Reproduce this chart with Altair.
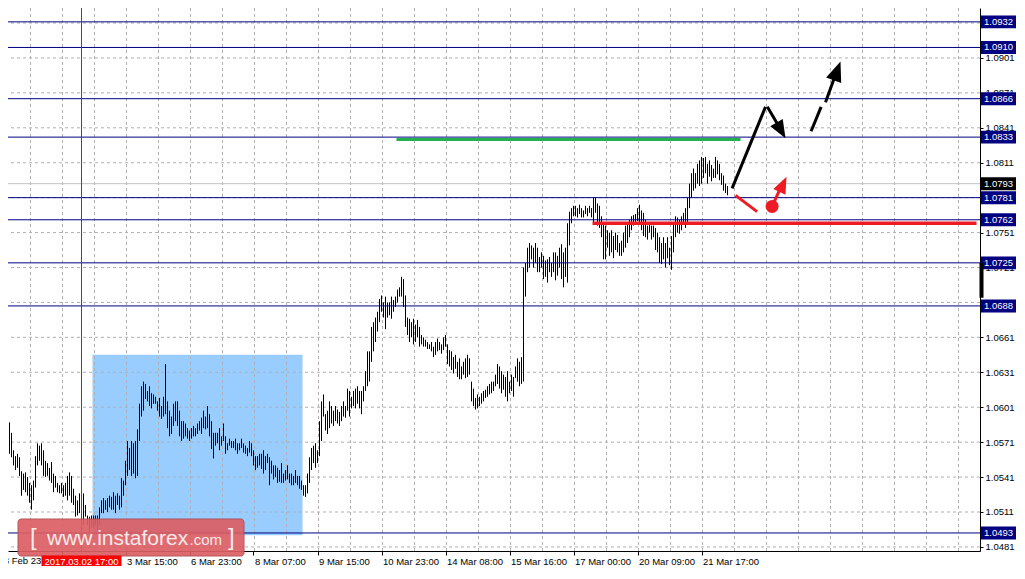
import altair as alt
import pandas as pd

# ---------------- data (EURUSD H1, prices given as pips: price = 1 + v/10000) ----------------
HIGH_PIPS = [
    578, 575, 572, 576, 588, 579, 564, 559, 561, 558,
    546, 544, 545, 541, 536, 534, 538, 559, 570, 568,
    570, 564, 555, 553, 549, 554, 544, 542, 536, 534,
    536, 534, 536, 542, 545, 542, 531, 525, 521, 527,
    534, 527, 517, 508, 507, 508, 508, 508, 508, 515,
    521, 523, 521, 523, 525, 524, 528, 525, 527, 525,
    540, 538, 555, 572, 566, 572, 570, 572, 582, 604,
    619, 623, 621, 615, 619, 613, 612, 610, 606, 609,
    602, 610, 638, 606, 598, 593, 604, 606, 606, 598,
    589, 589, 587, 583, 581, 583, 585, 583, 587, 589,
    592, 598, 593, 602, 595, 589, 579, 579, 579, 583,
    576, 587, 576, 570, 574, 572, 572, 574, 570, 570,
    574, 570, 568, 566, 572, 570, 564, 559, 559, 561,
    561, 564, 559, 561, 558, 555, 551, 551, 549, 547,
    553, 544, 547, 551, 544, 544, 542, 547, 542, 542,
    538, 534, 534, 544, 558, 566, 568, 570, 564, 589,
    606, 612, 595, 598, 606, 602, 598, 602, 599, 597,
    602, 606, 602, 617, 615, 610, 615, 617, 619, 615,
    615, 619, 632, 649, 649, 670, 674, 678, 683, 694,
    697, 691, 696, 691, 691, 696, 693, 696, 702, 704,
    713, 711, 697, 678, 677, 674, 677, 672, 676, 670,
    663, 661, 659, 657, 655, 657, 653, 657, 660, 657,
    655, 661, 663, 655, 650, 649, 644, 646, 640, 643,
    636, 640, 643, 646, 643, 623, 617, 609, 612, 610,
    613, 615, 616, 619, 621, 623, 623, 629, 638, 636,
    632, 629, 627, 632, 623, 629, 627, 636, 643, 640,
    644, 721, 725, 738, 742, 740, 738, 742, 738, 730,
    734, 731, 727, 728, 730, 725, 734, 734, 731, 738,
    741, 734, 738, 759, 769, 772, 774, 774, 772, 775,
    772, 770, 774, 772, 774, 772, 781, 781, 776, 774,
    765, 759, 757, 753, 751, 753, 748, 751, 749, 742,
    744, 751, 757, 759, 762, 765, 766, 767, 772, 775,
    770, 768, 762, 757, 759, 757, 757, 755, 751, 747,
    742, 747, 742, 747, 738, 748, 759, 765, 764, 762,
    765, 768, 772, 781, 793, 802, 806, 802, 810, 813,
    816, 815, 816, 810, 813, 809, 806, 816, 813, 810,
    802, 800, 793, 791,
]
LOW_PIPS = [
    558, 564, 551, 553, 561, 558, 551, 547, 549, 542,
    525, 530, 528, 525, 519, 513, 521, 532, 551, 555,
    551, 542, 541, 542, 538, 536, 528, 532, 528, 527,
    527, 524, 525, 521, 525, 519, 517, 507, 508, 510,
    504, 500, 507, 500, 494, 497, 498, 500, 496, 500,
    510, 510, 513, 511, 515, 513, 513, 510, 517, 513,
    515, 525, 534, 542, 547, 542, 544, 540, 542, 572,
    593, 598, 608, 606, 602, 600, 604, 604, 598, 593,
    591, 593, 595, 583, 576, 578, 585, 589, 585, 576,
    572, 574, 576, 574, 572, 574, 576, 576, 578, 581,
    578, 583, 582, 583, 576, 565, 557, 568, 570, 564,
    568, 572, 561, 564, 568, 566, 566, 564, 561, 564,
    566, 562, 561, 559, 562, 559, 551, 547, 549, 551,
    548, 544, 547, 553, 534, 544, 539, 541, 536, 537,
    536, 536, 538, 539, 536, 534, 534, 536, 534, 531,
    530, 525, 524, 527, 536, 547, 553, 549, 553, 559,
    572, 593, 581, 578, 583, 587, 585, 589, 587, 585,
    589, 593, 592, 598, 593, 600, 602, 600, 604, 600,
    595, 606, 615, 619, 623, 640, 649, 657, 666, 674,
    683, 678, 668, 678, 680, 677, 683, 687, 691, 696,
    696, 687, 670, 663, 657, 661, 655, 657, 661, 653,
    655, 653, 653, 651, 651, 649, 644, 646, 649, 650,
    647, 650, 653, 638, 636, 633, 630, 634, 627, 625,
    625, 629, 626, 627, 629, 606, 602, 599, 600, 602,
    604, 606, 609, 610, 612, 613, 615, 619, 621, 617,
    613, 616, 610, 606, 613, 615, 610, 626, 623, 619,
    621, 623, 696, 717, 721, 728, 721, 725, 717, 717,
    721, 711, 713, 708, 717, 713, 717, 710, 714, 721,
    711, 704, 713, 708, 740, 759, 765, 765, 764, 767,
    764, 764, 767, 765, 768, 764, 759, 768, 757, 755,
    747, 728, 728, 738, 731, 734, 729, 736, 734, 731,
    731, 734, 738, 742, 747, 753, 757, 759, 761, 759,
    753, 748, 747, 745, 751, 745, 747, 736, 734, 725,
    724, 728, 721, 729, 723, 719, 734, 747, 751, 750,
    753, 758, 755, 759, 772, 781, 787, 789, 793, 791,
    793, 798, 802, 793, 799, 795, 798, 798, 801, 796,
    792, 787, 785, 783,
]

# time axis (bar index -> label)
TICK_IDX = [30, 62, 94, 126, 158, 190, 222, 254, 286, 318, 350]
TICK_LABELS = ["", "3 Mar 15:00", "6 Mar 23:00", "8 Mar 07:00", "9 Mar 15:00",
               "10 Mar 23:00", "14 Mar 08:00", "15 Mar 16:00", "17 Mar 00:00",
               "20 Mar 09:00", "21 Mar 17:00"]
FIRST_LABEL = "28 Feb 23:00"
FIRST_IDX = -2
CURSOR_IDX = 40
CURSOR_LABEL = "2017.03.02 17:00"
VGRID_IDX = [14.5 + 16 * k for k in range(30)]

# price axis
PRICE_TICKS = [1.0481, 1.0511, 1.0541, 1.0571, 1.0601, 1.0631, 1.0661, 1.0691,
               1.0721, 1.0751, 1.0781, 1.0811, 1.0841, 1.0871, 1.0901, 1.0931]
LEVELS = [1.0932, 1.0910, 1.0866, 1.0833, 1.0781, 1.0762, 1.0725, 1.0688, 1.0493]
CURRENT = 1.0793

# drawn objects (bar index / price)
BOX_X = [45.5, 150.5]
BOX_Y = [1.0491, 1.0646]
GREEN_X = [197.5, 369.5]
GREEN_Y = 1.0831
RED_X = [295.5, 487.5]
RED_Y = 1.0759
BLACK_SEG_X = [365.3, 382.9, 404.8, 412.0]
BLACK_SEG_Y = [1.0789, 1.0859, 1.0838, 1.0863]
BLACK_SEG_X2 = [382.0, 390.5, 409.8, 417.5]
BLACK_SEG_Y2 = [1.0859, 1.0837, 1.0859, 1.0889]
RED_SEG_X = [367.0, 385.3]
RED_SEG_Y = [1.0783, 1.07735]
RED_SEG_X2 = [377.8, 390.5]
RED_SEG_Y2 = [1.0769, 1.0793]
DOT_X, DOT_Y = 385.3, 1.07735
HEAD_X = [392.0, 419.5, 392.5]
HEAD_Y = [1.0832, 1.0898, 1.0799]
HEAD_ANGLE = [150, 20, 25]
HEAD_COLOR = ["#000000", "#000000", "#ed1c24"]
HEAD_SIZE = [324, 400, 280]
AXIS_MARK_Y = [1.0725, 1.0695]

# ---------------- chart ----------------
W, H = 972, 543
FONT = "Liberation Sans"
GRID_COLOR = "#b0b0b0"
XS = alt.Scale(domain=[3.25, 3.25 + W / 2], nice=False, zero=False)
YS = alt.Scale(domain=[1.04775, 1.09439], nice=False, zero=False)

labels_js = "[" + ",".join("'%s'" % s for s in TICK_LABELS) + "]"
idx_js = "[" + ",".join(str(v) for v in TICK_IDX) + "]"
XAX = alt.Axis(values=TICK_IDX, labelExpr=f"{labels_js}[indexof({idx_js}, datum.value)]",
               labelAlign="left", labelBaseline="top", labelOffset=1, labelPadding=1,
               tickSize=4, tickColor="black", domainColor="black", labelColor="black",
               labelFont=FONT, labelFontSize=9.5, grid=False, title=None,
               labelOverlap=False, labelFlush=False, labelBound=False)
YAX = alt.Axis(orient="right", values=PRICE_TICKS, format=".4f", labelAlign="left",
               labelBaseline="middle", labelPadding=2, tickSize=3, tickColor="black",
               domainColor="black", labelColor="black", labelFont=FONT, labelFontSize=9.5,
               grid=False, title=None, labelOverlap=False, labelFlush=False, labelBound=False)


def X(f):
    return alt.X(f, type="quantitative", scale=XS, axis=XAX)


def Y(f):
    return alt.Y(f, type="quantitative", scale=YS, axis=YAX)


bars_df = pd.DataFrame({
    "x": list(range(len(HIGH_PIPS))),
    "high": [1 + v / 10000 for v in HIGH_PIPS],
    "low": [1 + v / 10000 for v in LOW_PIPS],
})

layers = []
# blue rectangle
layers.append(alt.Chart(pd.DataFrame({"x": [BOX_X[0]], "x2": [BOX_X[1]], "y": [BOX_Y[0]], "y2": [BOX_Y[1]]}))
              .mark_rect(color="#99ccff").encode(x=X("x"), x2="x2", y=Y("y"), y2="y2"))
# grid
layers.append(alt.Chart(pd.DataFrame({"x": VGRID_IDX})).mark_rule(color=GRID_COLOR, strokeDash=[3, 3], strokeWidth=1)
              .encode(x=X("x")))
layers.append(alt.Chart(pd.DataFrame({"y": PRICE_TICKS})).mark_rule(color=GRID_COLOR, strokeDash=[3, 3], strokeWidth=1)
              .encode(y=Y("y")))
# current price line
layers.append(alt.Chart(pd.DataFrame({"y": [CURRENT]})).mark_rule(color="#c0c0c0", strokeWidth=1)
              .encode(y=Y("y")))
# level lines
layers.append(alt.Chart(pd.DataFrame({"y": LEVELS})).mark_rule(color="#000080", strokeWidth=1)
              .encode(y=Y("y")))
# bars
layers.append(alt.Chart(bars_df).mark_rule(color="black", strokeWidth=1)
              .encode(x=X("x"), y=Y("low"), y2="high"))
# cursor line
layers.append(alt.Chart(pd.DataFrame({"x": [CURSOR_IDX]})).mark_rule(color="#ff0000", strokeWidth=1)
              .encode(x=X("x")))
# green & red horizontal lines
layers.append(alt.Chart(pd.DataFrame({"x": [GREEN_X[0]], "x2": [GREEN_X[1]], "y": [GREEN_Y]}))
              .mark_rule(color="#22b14c", strokeWidth=3).encode(x=X("x"), x2="x2", y=Y("y")))
layers.append(alt.Chart(pd.DataFrame({"x": [RED_X[0]], "x2": [RED_X[1]], "y": [RED_Y]}))
              .mark_rule(color="#ed1c24", strokeWidth=3.5).encode(x=X("x"), x2="x2", y=Y("y")))
# arrows
layers.append(alt.Chart(pd.DataFrame({"x": BLACK_SEG_X, "y": BLACK_SEG_Y, "x2": BLACK_SEG_X2, "y2": BLACK_SEG_Y2}))
              .mark_rule(color="black", strokeWidth=3).encode(x=X("x"), y=Y("y"), x2="x2", y2="y2"))
layers.append(alt.Chart(pd.DataFrame({"x": RED_SEG_X, "y": RED_SEG_Y, "x2": RED_SEG_X2, "y2": RED_SEG_Y2}))
              .mark_rule(color="#ed1c24", strokeWidth=3).encode(x=X("x"), y=Y("y"), x2="x2", y2="y2"))
layers.append(alt.Chart(pd.DataFrame({"x": [DOT_X], "y": [DOT_Y]}))
              .mark_point(shape="circle", filled=True, opacity=1, size=169, color="#ed1c24", strokeWidth=0)
              .encode(x=X("x"), y=Y("y")))
layers.append(alt.Chart(pd.DataFrame({"x": HEAD_X, "y": HEAD_Y, "a": HEAD_ANGLE, "c": HEAD_COLOR, "s": HEAD_SIZE}))
              .mark_point(shape="M0,0L0.8,2L-0.8,2Z", filled=True, opacity=1, strokeWidth=0)
              .encode(x=X("x"), y=Y("y"), angle=alt.Angle("a:Q", scale=None),
                      color=alt.Color("c:N", scale=None), size=alt.Size("s:Q", scale=None)))
# right side price boxes
box_df = pd.DataFrame({"y": LEVELS + [CURRENT], "c": ["#000080"] * len(LEVELS) + ["#000000"]})
layers.append(alt.Chart(box_df)
              .mark_point(shape="M-1,-0.37L1,-0.37L1,0.37L-1,0.37Z", size=1225, filled=True, opacity=1, strokeWidth=0)
              .encode(x=alt.value(W + 18.5), y=Y("y"), color=alt.Color("c:N", scale=None)))
layers.append(alt.Chart(box_df)
              .mark_text(align="left", baseline="middle", color="white", font=FONT, fontSize=9.5)
              .encode(x=alt.value(W + 4), y=Y("y"), text=alt.Text("y:Q", format=".4f")))
layers.append(alt.Chart(pd.DataFrame({"y": [AXIS_MARK_Y[0]], "y2": [AXIS_MARK_Y[1]]}))
              .mark_rule(color="black", strokeWidth=4).encode(x=alt.value(W + 1.5), y=Y("y"), y2="y2"))
# watermark
layers.append(alt.Chart(pd.DataFrame({"k": [0]}))
              .mark_rect(fill="#dc5f64", opacity=0.92, stroke="#b04a4e", strokeWidth=1, cornerRadius=3)
              .encode(x=alt.value(10), x2=alt.value(236), y=alt.value(511), y2=alt.value(548)))
for t, xpos, size, al in [("[", 22, 24, "left"), ("www.instaforex", 39, 21, "left"),
                          (".com", 214, 15, "right"), ("]", 220, 24, "left")]:
    layers.append(alt.Chart(pd.DataFrame({"t": [t]}))
                  .mark_text(align=al, baseline="alphabetic", color="#f8eaea", font=FONT, fontSize=size)
                  .encode(x=alt.value(xpos), y=alt.value(537), text="t:N"))
# first (cut) time label and cursor label
layers.append(alt.Chart(pd.DataFrame({"x": [FIRST_IDX], "t": [FIRST_LABEL]}))
              .mark_text(align="left", baseline="top", color="black", font=FONT, fontSize=9.5, dx=1)
              .encode(x=X("x"), y=alt.value(H + 5), text="t:N"))
layers.append(alt.Chart(pd.DataFrame({"x": [CURSOR_IDX]}))
              .mark_point(shape="M-1,-0.15L1,-0.15L1,0.15L-1,0.15Z", size=6400, filled=True, opacity=1,
                          color="#ff0000", strokeWidth=0)
              .encode(x=X("x"), y=alt.value(H + 10.5)))
layers.append(alt.Chart(pd.DataFrame({"x": [CURSOR_IDX], "t": [CURSOR_LABEL]}))
              .mark_text(align="center", baseline="middle", color="white", font=FONT, fontSize=9.5)
              .encode(x=X("x"), y=alt.value(H + 10.5), text="t:N"))

chart = (alt.layer(*layers)
         .properties(width=W, height=H, autosize=alt.AutoSizeParams(type="none"),
                     padding={"left": 0, "top": 0, "right": 37, "bottom": 15},
                     background="white")
         .configure_view(stroke=None))

chart.save("out.html", embed_options={"renderer": "svg", "actions": False})
